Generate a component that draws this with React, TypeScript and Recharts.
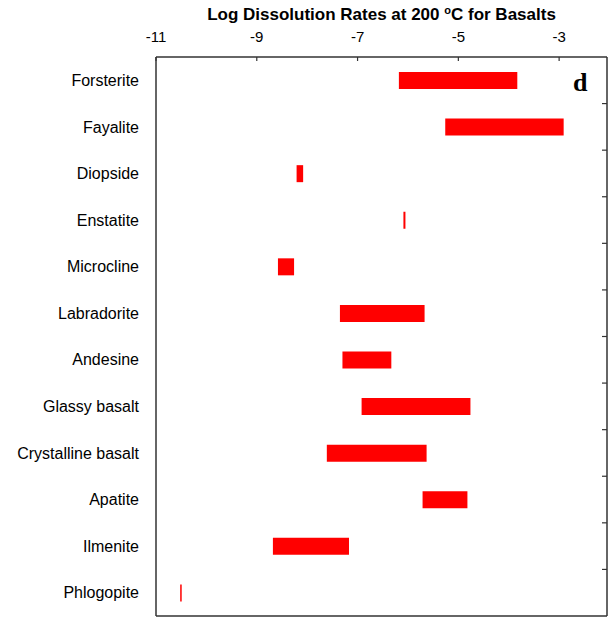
import { BarChart, Bar, XAxis, YAxis } from 'recharts';

const categories = [
  'Forsterite',
  'Fayalite',
  'Diopside',
  'Enstatite',
  'Microcline',
  'Labradorite',
  'Andesine',
  'Glassy basalt ',
  'Crystalline basalt',
  'Apatite',
  'Ilmenite',
  'Phlogopite',
];
const lowRates = [-6.18, -5.26, -8.21, -6.09, -8.58, -7.35, -7.3, -6.92, -7.61, -5.71, -8.68, -10.52];
const highRates = [-3.83, -2.91, -8.08, -6.05, -8.26, -5.67, -6.33, -4.76, -5.63, -4.82, -7.17, -10.49];
const xTicks = [-11, -9, -7, -5, -3];

const data = categories.map((name, i) => ({ name, range: [lowRates[i], highRates[i]] }));

const W = 610;
const H = 617;
const margin = { top: 27, right: 3, bottom: 1, left: 0 };
const topAxisH = 30;
const plotH = H - margin.top - margin.bottom - topAxisH;
const halfBand = plotH / categories.length / 2;

const font = '"Liberation Sans", Arial, sans-serif';
const frame = { stroke: '#333', strokeWidth: 1.5 };

function TopTick(props: any) {
  const { x, y, payload } = props;
  return (
    <g>
      <text x={x} y={y - 15} textAnchor="middle" fontSize={15} fontFamily={font} fill="#000">
        {payload.value}
      </text>
      <line x1={x} x2={x} y1={y} y2={y + 4} stroke="#333" strokeWidth={1.2} />
    </g>
  );
}

// right-hand ticks sit on the boundaries between rows, pointing inward
function RowTick(props: any) {
  const { y, index } = props;
  if (!index) return <g />;
  const edge = W - margin.right;
  const yy = y - halfBand;
  return <line x1={edge - 5} x2={edge} y1={yy} y2={yy} stroke="#333" strokeWidth={1.2} />;
}

export default function App() {
  return (
    <div style={{ position: 'absolute', left: 0, top: 0, width: W, height: H, background: '#fff' }}>
      <div
        style={{
          position: 'absolute',
          left: 156,
          top: 6,
          width: 451,
          textAlign: 'center',
          fontFamily: font,
          fontWeight: 'bold',
          fontSize: 17,
          lineHeight: 1,
          color: '#000',
          whiteSpace: 'nowrap',
        }}
      >
        Log Dissolution Rates at 200 <span style={{ fontSize: 11, position: 'relative', top: -6 }}>o</span>C for Basalts
      </div>
      <BarChart width={W} height={H} data={data} layout="vertical" margin={margin}>
        <XAxis
          xAxisId="top"
          type="number"
          orientation="top"
          domain={[-11, -2.05]}
          ticks={xTicks}
          allowDataOverflow
          height={topAxisH}
          tickSize={0}
          tickMargin={0}
          tickLine={false}
          axisLine={frame}
          tick={<TopTick />}
          interval={0}
        />
        <XAxis
          xAxisId="bottom"
          type="number"
          orientation="bottom"
          domain={[-11, -2.05]}
          allowDataOverflow
          mirror
          tick={false}
          tickLine={false}
          axisLine={frame}
        />
        <YAxis
          yAxisId="cat"
          type="category"
          dataKey="name"
          width={156}
          tickSize={0}
          tickMargin={17}
          tickLine={false}
          axisLine={frame}
          interval={0}
          tick={{ fontSize: 16, fontFamily: font, fill: '#000' }}
        />
        <YAxis
          yAxisId="rows"
          type="category"
          dataKey="name"
          orientation="right"
          mirror
          tickSize={0}
          tickMargin={0}
          tickLine={false}
          axisLine={frame}
          interval={0}
          tick={<RowTick />}
        />
        <Bar
          xAxisId="top"
          yAxisId="cat"
          dataKey="range"
          fill="#ff0000"
          barSize={17}
          isAnimationActive={false}
        />
      </BarChart>
      <div
        style={{
          position: 'absolute',
          left: 573,
          top: 70,
          fontFamily: '"Liberation Serif", "Times New Roman", serif',
          fontWeight: 'bold',
          fontSize: 26,
          lineHeight: 1,
          color: '#000',
        }}
      >
        d
      </div>
    </div>
  );
}
